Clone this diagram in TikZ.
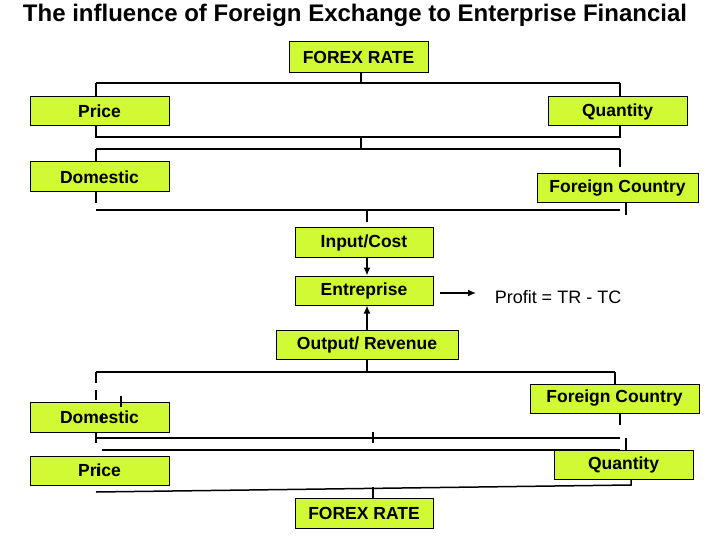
\documentclass[tikz,border=0pt]{standalone}
\usepackage{fontspec}
\setmainfont{Liberation Sans}
\usetikzlibrary{arrows.meta}
\definecolor{lime}{RGB}{208,250,52}
\tikzset{
  box/.style={draw=black, fill=lime, line width=1pt, inner sep=0pt,
    font=\fontsize{17.5}{19}\selectfont\bfseries},
  wire/.style={line width=1.5pt},
  arr/.style={line width=1.5pt, -{Latex[length=8pt,width=7pt]}},
}
\begin{document}
\begin{tikzpicture}[x=1pt,y=-1pt]
\useasboundingbox (0,0) rectangle (720,540);
\node[font=\fontsize{24}{27}\selectfont\bfseries] (title) at (355,15) {The influence of Foreign Exchange to Enterprise Financial};
% boxes
\node[box, minimum width=139pt, minimum height=31pt] (fx1) at (358.5,57.5) {FOREX RATE};
\node[box, minimum width=139pt, minimum height=29pt] (price1) at (99.5,111.5) {Price};
\node[box, minimum width=139pt, minimum height=29pt] (qty1) at (617.5,111.5) {Quantity};
\node[box, minimum width=139pt, minimum height=30pt] (dom1) at (99.5,177) {Domestic};
\node[box, minimum width=161pt, minimum height=29pt] (fc1) at (617.5,188.5) {Foreign Country};
\node[box, minimum width=138pt, minimum height=29pt] (inp) at (364,242.5) {Input/Cost};
\node[box, minimum width=138pt, minimum height=29pt] (ent) at (364,290.5) {Entreprise};
\node[font=\fontsize{18}{21}\selectfont] (profit) at (558,297) {Profit = TR - TC};
\node[box, minimum width=182pt, minimum height=29pt] (out) at (367,344.5) {Output/ Revenue};
\node[box, minimum width=169pt, minimum height=29pt] (fc2) at (614.5,398.5) {Foreign Country};
\node[box, minimum width=139pt, minimum height=30pt] (dom2) at (99.5,417) {Domestic};
\node[box, minimum width=139pt, minimum height=29pt] (qty2) at (623.5,464.5) {Quantity};
\node[box, minimum width=139pt, minimum height=29pt] (price2) at (99.5,470.5) {Price};
\node[box, minimum width=138pt, minimum height=30pt] (fx2) at (364,513) {FOREX RATE};
% bus coordinates
\coordinate (b1l) at (96,83);  \coordinate (b1r) at (620,83);
\coordinate (b2l) at (96,137); \coordinate (b2r) at (620,137);
\coordinate (b3l) at (96,149); \coordinate (b3r) at (620,149);
\coordinate (b4l) at (96,210); \coordinate (b4r) at (620,210);
\coordinate (b5l) at (96,372); \coordinate (b5r) at (615,372);
\coordinate (b6l) at (96,438); \coordinate (b6r) at (620,438);
\coordinate (b7l) at (102,450); \coordinate (b7r) at (620,450);
\coordinate (b8l) at (96,492); \coordinate (b8r) at (631,485);
\coordinate (pa) at (440,293); \coordinate (pb) at (476,293);
% top tree
\draw[wire] (fx1.south -| 361,0) -- (361,83);
\draw[wire] (b1l) -- (b1r);
\draw[wire] (b1l) -- (price1.north -| b1l);
\draw[wire] (b1r) -- (qty1.north -| b1r);
\draw[wire] (price1.south -| b2l) -- (b2l) -- (b2r) -- (qty1.south -| b2r);
\draw[wire] (361,137) -- (361,149);
\draw[wire] (b3l) -- (b3r);
\draw[wire] (b3l) -- (dom1.north -| b3l);
\draw[wire] (b3r) -- (620,167);
\draw[wire] (dom1.south -| 96,0) -- (96,203);
\draw[wire] (b4l) -- (b4r);
\draw[wire] (fc1.south -| 626,0) -- (626,215);
\draw[wire] (367,210) -- (367,222);
% middle
\draw[arr] (inp.south -| 367,0) -- (ent.north -| 367,0);
\draw[arr] (out.north -| 367,0) -- (ent.south -| 367,0);
\draw[arr] (pa) -- (pb);
% bottom tree
\draw[wire] (out.south -| 367,0) -- (367,372);
\draw[wire] (b5l) -- (b5r);
\draw[wire] (b5l) -- (96,383);
\draw[wire] (96,390) -- (96,400);
\draw[wire] (b5r) -- (fc2.north -| b5r);
\draw[line width=1.2pt] (121,396) -- (121,407);
\draw[wire] (fc2.south -| 620,0) -- (620,425);
\draw[wire] (dom2.south -| b6l) -- (96,443);
\draw[wire] (b6l) -- (b6r);
\draw[line width=1.2pt] (373,432) -- (373,443);
\draw[wire] (b7l) -- (b7r);
\draw[wire] (626,438) -- (qty2.north -| 626,0);
\draw[wire] (qty2.south -| b8r) -- (b8r) -- (b8l);
\draw[wire] (373,487) -- (fx2.north -| 373,0);
% small stray marks over text
\draw[line width=1pt] (102,413) -- (102,423);
\draw[line width=1pt] (97,467) -- (97,476);
\end{tikzpicture}
\end{document}
